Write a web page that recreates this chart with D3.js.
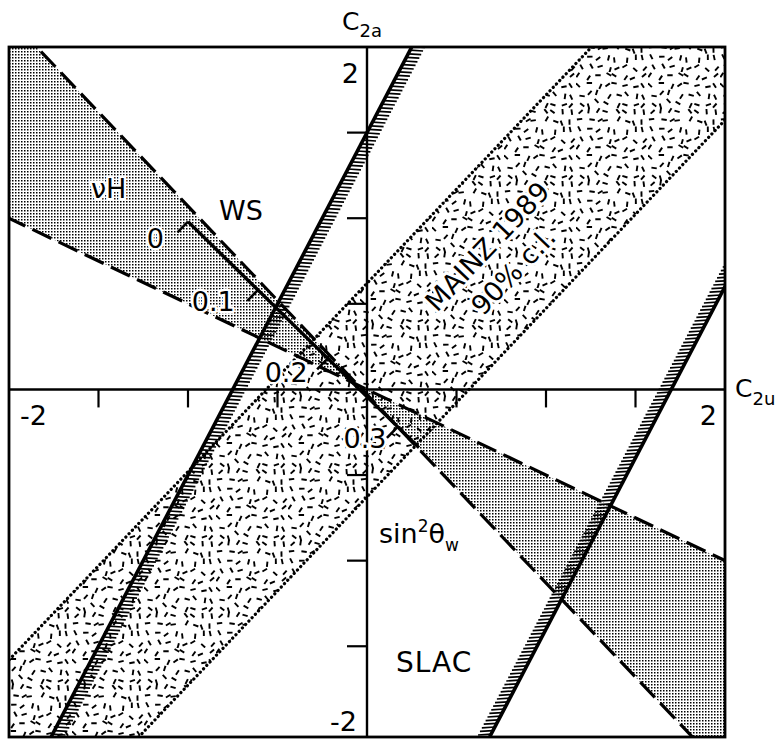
<!DOCTYPE html>
<html>
<head>
<meta charset="utf-8">
<script src="https://cdn.jsdelivr.net/npm/d3@7"></script>
<style>
  html, body { margin: 0; padding: 0; background: #fff; }
  svg { display: block; }
  text { font-family: "DejaVu Sans", "Liberation Sans", sans-serif; fill: #000; }
</style>
</head>
<body>
<div id="chart"></div>
<script>
// ---------------- data ----------------
const xDomain = [-2, 2];
const yDomain = [-2.03, 2];
const xTickValues = [-1.5, -1, -0.5, 0.5, 1, 1.5];
const yTickValues = [-1.5, -1, -0.5, 0.5, 1, 1.5];
const xTickLabels = [{ v: -2, t: "-2" }, { v: 2, t: "2" }];
const yTickLabels = [{ v: 2, t: "2" }, { v: -2, t: "-2" }];

// SLAC: two parallel lines C2a = slope*C2u + intercept (hatched toward inside)
const slacSlopes = [2, 2];
const slacIntercepts = [1.5, -3.4];
const slacHatchSide = [1, -1];   // +1 hatch to the right, -1 to the left

// MAINZ 1989 90% c.l. band: C2a = slope*C2u + offset
const mainzSlope = 1.1;
const mainzOffsets = [0.62, -0.627];

// nu-H wedge: two dashed lines
const nuHSlopes = [-1.1, -0.5];
const nuHIntercepts = [-0.03, 0.0];

// WS (Weinberg-Salam) line, sin^2(theta_W) ticks
const wsSin2 = ["0", "0.1", "0.2", "0.3"];
const wsC2u = [-1.0, -0.61, -0.22, 0.17];
const wsC2a = [0.98, 0.58, 0.18, -0.22];
const wsEnd = [0.29, -0.34];

// ---------------- setup ----------------
const W = 782, H = 743;
const x = d3.scaleLinear().domain(xDomain).range([9, 725]);
const y = d3.scaleLinear().domain(yDomain).range([737, 47]);

const svg = d3.select("#chart").append("svg").attr("width", W).attr("height", H);
svg.append("rect").attr("width", W).attr("height", H).attr("fill", "#fff");
const defs = svg.append("defs");

defs.append("clipPath").attr("id", "frameClip")
  .append("rect").attr("x", x(-2)).attr("y", y(2))
  .attr("width", x(2) - x(-2)).attr("height", y(-2.03) - y(2));

// dot screen pattern (nu-H)
const pd = defs.append("pattern").attr("id", "dots").attr("width", 3).attr("height", 3)
  .attr("patternUnits", "userSpaceOnUse");
pd.append("rect").attr("width", 1.5).attr("height", 1.5).attr("fill", "#000");

// scattered dashes texture (MAINZ band), deterministic LCG
let seed = 987654;
function rnd() { seed = (seed * 1664525 + 1013904223) % 4294967296; return seed / 4294967296; }
const tile = 72;
const pr = defs.append("pattern").attr("id", "dashes").attr("width", tile).attr("height", tile)
  .attr("patternUnits", "userSpaceOnUse");
pr.append("rect").attr("width", tile).attr("height", tile).attr("fill", "#fff");
const dashItems = [];
const gridN = 8;
for (let i = 0; i < gridN; i++) {
  for (let j = 0; j < gridN; j++) {
    const cx = (i + 0.2 + 0.6 * rnd()) * tile / gridN;
    const cy = (j + 0.2 + 0.6 * rnd()) * tile / gridN;
    const ang = rnd() * Math.PI;
    dashItems.push({ cx, cy, ang });
  }
}
pr.selectAll("line").data(dashItems).join("line")
  .attr("x1", d => d.cx - 2.7 * Math.cos(d.ang)).attr("y1", d => d.cy - 2.7 * Math.sin(d.ang))
  .attr("x2", d => d.cx + 2.7 * Math.cos(d.ang)).attr("y2", d => d.cy + 2.7 * Math.sin(d.ang))
  .attr("stroke", "#000").attr("stroke-width", 1.9);

const plot = svg.append("g").attr("clip-path", "url(#frameClip)");
const line = d3.line().x(d => x(d[0])).y(d => y(d[1]));

// ---------------- MAINZ band ----------------
const uFar = [-3.5, 3.5];
const mainzPoly = [
  [uFar[0], mainzSlope * uFar[0] + mainzOffsets[0]],
  [uFar[1], mainzSlope * uFar[1] + mainzOffsets[0]],
  [uFar[1], mainzSlope * uFar[1] + mainzOffsets[1]],
  [uFar[0], mainzSlope * uFar[0] + mainzOffsets[1]]
];
plot.append("path").attr("d", line(mainzPoly) + "Z").attr("fill", "url(#dashes)");

// ---------------- nu-H wedges ----------------
const u0 = (nuHIntercepts[0] - nuHIntercepts[1]) / (nuHSlopes[1] - nuHSlopes[0]);
const a0 = nuHSlopes[1] * u0 + nuHIntercepts[1];
[-4.5, 4.5].forEach(uf => {
  const poly = [[u0, a0],
    [uf, nuHSlopes[0] * uf + nuHIntercepts[0]],
    [uf, nuHSlopes[1] * uf + nuHIntercepts[1]]];
  plot.append("path").attr("d", line(poly) + "Z").attr("fill", "url(#dots)");
});

// MAINZ dotted boundaries
mainzOffsets.forEach(off => {
  plot.append("path")
    .attr("d", line([[uFar[0], mainzSlope * uFar[0] + off], [uFar[1], mainzSlope * uFar[1] + off]]))
    .attr("fill", "none").attr("stroke", "#000").attr("stroke-width", 3.2)
    .attr("stroke-linecap", "round").attr("stroke-dasharray", "0.1,4.6");
});

// nu-H dashed lines
nuHSlopes.forEach((m, i) => {
  const b = nuHIntercepts[i];
  plot.append("path")
    .attr("d", line([[-4.5, m * -4.5 + b], [4.5, m * 4.5 + b]]))
    .attr("fill", "none").attr("stroke", "#000").attr("stroke-width", 3.2)
    .attr("stroke-dasharray", "21,8");
});

// ---------------- WS line ----------------
const wsPts = wsC2u.map((u, i) => [u, wsC2a[i]]);
plot.append("path").attr("d", line([wsPts[0], wsEnd]))
  .attr("fill", "none").attr("stroke", "#000").attr("stroke-width", 3.4);
// ticks perpendicular (toward lower-left)
const wdx = x(wsEnd[0]) - x(wsPts[0][0]), wdy = y(wsEnd[1]) - y(wsPts[0][1]);
const wl = Math.hypot(wdx, wdy);
const nx = -wdy / wl, ny = wdx / wl; // perpendicular
const perp = nx < 0 ? [nx, ny] : [-nx, -ny];
plot.selectAll(".wstick").data(wsPts).join("line").attr("class", "wstick")
  .attr("x1", d => x(d[0])).attr("y1", d => y(d[1]))
  .attr("x2", d => x(d[0]) + 15 * perp[0]).attr("y2", d => y(d[1]) + 15 * perp[1])
  .attr("stroke", "#000").attr("stroke-width", 2.6);

// ---------------- SLAC hatched lines ----------------
slacSlopes.forEach((m, i) => {
  const b = slacIntercepts[i];
  const side = slacHatchSide[i];
  plot.append("path").attr("d", line([[(-2.3 - b) / m, -2.3], [(2.3 - b) / m, 2.3]]))
    .attr("fill", "none").attr("stroke", "#000").attr("stroke-width", 3.6);
  const hs = [];
  for (let py = y(2) - 4; py <= y(-2.03) + 4; py += 3.6) {
    const a = y.invert(py);
    hs.push({ px: x((a - b) / m), py });
  }
  plot.append("g").selectAll("line").data(hs).join("line")
    .attr("x1", d => d.px).attr("y1", d => d.py)
    .attr("x2", d => d.px + side * 13).attr("y2", d => d.py + 0.8)
    .attr("stroke", "#000").attr("stroke-width", 1.7);
});

// ---------------- axes through origin ----------------
svg.append("line").attr("x1", x(-2)).attr("x2", x(2)).attr("y1", y(0)).attr("y2", y(0))
  .attr("stroke", "#000").attr("stroke-width", 2.4);
svg.append("line").attr("x1", x(0)).attr("x2", x(0)).attr("y1", y(2)).attr("y2", y(-2.03))
  .attr("stroke", "#000").attr("stroke-width", 2.4);
svg.selectAll(".xt").data(xTickValues).join("line").attr("class", "xt")
  .attr("x1", d => x(d)).attr("x2", d => x(d)).attr("y1", y(0)).attr("y2", y(0) + 18)
  .attr("stroke", "#000").attr("stroke-width", 2.2);
svg.selectAll(".yt").data(yTickValues).join("line").attr("class", "yt")
  .attr("x1", x(0) - 20).attr("x2", x(0)).attr("y1", d => y(d)).attr("y2", d => y(d))
  .attr("stroke", "#000").attr("stroke-width", 2.2);

// frame
svg.append("rect").attr("x", x(-2)).attr("y", y(2))
  .attr("width", x(2) - x(-2)).attr("height", y(-2.03) - y(2))
  .attr("fill", "none").attr("stroke", "#000").attr("stroke-width", 2.8);

// ---------------- text ----------------
const fs = 27;
// x tick labels
svg.append("text").attr("x", x(xTickLabels[0].v) + 11).attr("y", y(0) + 36)
  .attr("font-size", fs).text(xTickLabels[0].t);
svg.append("text").attr("x", x(xTickLabels[1].v) - 8).attr("y", y(0) + 36)
  .attr("font-size", fs).attr("text-anchor", "end").text(xTickLabels[1].t);
// y tick labels
svg.append("text").attr("x", x(0) - 8).attr("y", y(yTickLabels[0].v) + 36)
  .attr("font-size", fs).attr("text-anchor", "end").text(yTickLabels[0].t);
svg.append("text").attr("x", x(0) - 10).attr("y", y(yTickLabels[1].v) - 1)
  .attr("font-size", fs).attr("text-anchor", "end").text(yTickLabels[1].t);

// axis titles
const t1 = svg.append("text").attr("x", x(0) - 25).attr("y", y(2) - 17).attr("font-size", 25);
t1.append("tspan").text("C");
t1.append("tspan").attr("font-size", 18).attr("dy", 7).text("2a");
const t2 = svg.append("text").attr("x", x(2) + 10).attr("y", y(0) + 8).attr("font-size", 25);
t2.append("tspan").text("C");
t2.append("tspan").attr("font-size", 18).attr("dy", 8).text("2u");

// sin^2 theta tick labels along WS line
const wsLabelOffsets = [[-24, 26], [-23, 21], [-20, 23], [-11, 21]];
svg.selectAll(".wsl").data(wsPts).join("text").attr("class", "wsl")
  .attr("x", (d, i) => x(d[0]) + wsLabelOffsets[i][0])
  .attr("y", (d, i) => y(d[1]) + wsLabelOffsets[i][1])
  .attr("text-anchor", "end").attr("font-size", fs)
  .attr("stroke", "#fff").attr("stroke-width", 5).attr("paint-order", "stroke")
  .attr("stroke-linejoin", "round")
  .text((d, i) => wsSin2[i]);

// region labels
svg.append("text").attr("x", x(-1.542)).attr("y", y(1.118)).attr("font-size", fs)
  .attr("stroke", "#fff").attr("stroke-width", 5).attr("paint-order", "stroke").text("νH");
svg.append("text").attr("x", x(-0.827)).attr("y", y(0.989)).attr("font-size", fs).text("WS");
const st = svg.append("text").attr("x", x(0.067)).attr("y", y(-0.896)).attr("font-size", fs);
st.append("tspan").text("sin");
st.append("tspan").attr("font-size", 17).attr("dy", -11).text("2");
st.append("tspan").attr("dy", 11).text("θ");
st.append("tspan").attr("font-size", 17).attr("dy", 8).text("w");
svg.append("text").attr("x", x(0.162)).attr("y", y(-1.651)).attr("font-size", 28)
  .attr("letter-spacing", 1).text("SLAC");

// MAINZ label rotated along band
const ang = Math.atan2(y(0) - y(mainzSlope), x(1) - x(0)) * 180 / Math.PI;
const mg = svg.append("g").attr("transform", `translate(${x(0.67)},${y(0.838)}) rotate(${-ang})`);
mg.append("text").attr("x", 0).attr("y", 10).attr("text-anchor", "middle").attr("font-size", fs)
  .attr("stroke", "#fff").attr("stroke-width", 6).attr("paint-order", "stroke").text("MAINZ 1989");
mg.append("text").attr("x", 0).attr("y", 46).attr("text-anchor", "middle").attr("font-size", fs)
  .attr("stroke", "#fff").attr("stroke-width", 6).attr("paint-order", "stroke").text("90% c.l.");
</script>
</body>
</html>
